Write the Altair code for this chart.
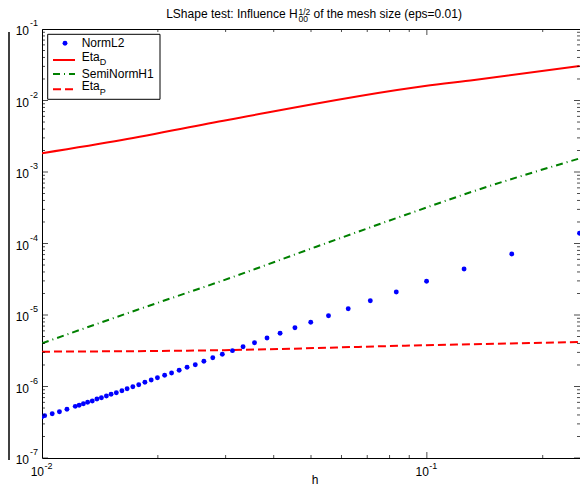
import altair as alt
import pandas as pd

# ---------------- data ----------------
h_norml2 = [0.0100, 0.01016, 0.01063, 0.01110, 0.01161, 0.01220, 0.01249, 0.01281, 0.01314, 0.01351,
            0.01389, 0.01427, 0.01470, 0.01512, 0.01560, 0.01613, 0.01664, 0.01722, 0.01784, 0.01851,
            0.01922, 0.01995, 0.02083, 0.02171, 0.02272, 0.02382, 0.02502, 0.02634, 0.02778, 0.02941,
            0.03125, 0.03330, 0.03566, 0.03843, 0.04156, 0.04542, 0.04992, 0.05552, 0.06247, 0.07130,
            0.08328, 0.09982, 0.12494, 0.1662, 0.2493]
norml2 = [3.78e-7, 3.91e-7, 4.16e-7, 4.44e-7, 4.80e-7, 5.28e-7, 5.46e-7, 5.74e-7, 6.01e-7, 6.27e-7,
          6.69e-7, 6.97e-7, 7.36e-7, 7.78e-7, 8.19e-7, 8.74e-7, 9.32e-7, 9.94e-7, 1.06e-6, 1.145e-6,
          1.233e-6, 1.328e-6, 1.434e-6, 1.544e-6, 1.684e-6, 1.855e-6, 2.018e-6, 2.251e-6, 2.527e-6, 2.82e-6,
          3.17e-6, 3.60e-6, 4.10e-6, 4.77e-6, 5.55e-6, 6.64e-6, 7.91e-6, 9.78e-6, 1.225e-5, 1.585e-5,
          2.098e-5, 2.96e-5, 4.40e-5, 7.13e-5, 1.389e-4]

h_etad = [0.0100, 0.01613, 0.03035, 0.09883, 0.1328, 0.2494]
etad = [1.83e-3, 2.80e-3, 5.34e-3, 1.595e-2, 1.935e-2, 3.04e-2]

h_semi = [0.0100, 0.01763, 0.03106, 0.05162, 0.08783, 0.1328, 0.2490]
semi = [4.02e-6, 1.175e-5, 3.346e-5, 9.02e-5, 2.503e-4, 5.42e-4, 1.545e-3]

h_etap = [0.0100, 0.03125, 0.0878, 0.249]
etap = [3.07e-6, 3.24e-6, 3.72e-6, 4.19e-6]

# axis ticks / labels
x_major = [0.01, 0.1]
x_major_exp = ["-2", "-1"]
x_minor = [0.02, 0.03, 0.04, 0.05, 0.06, 0.07, 0.08, 0.09, 0.2]
y_major = [1e-7, 1e-6, 1e-5, 1e-4, 1e-3, 1e-2, 1e-1]
y_major_exp = ["-7", "-6", "-5", "-4", "-3", "-2", "-1"]
y_minor = [k * 10.0 ** e for e in range(-7, -1) for k in range(2, 10)]

W, H = 538, 429
FONT = "Liberation Sans"

xs = alt.Scale(type="log", domain=[0.01, 0.25], nice=False)
ys = alt.Scale(type="log", domain=[1e-7, 1e-1], nice=False)

def X(f="h"):
    return alt.X(f"{f}:Q", scale=xs, axis=None)

def Y(f="v"):
    return alt.Y(f"{f}:Q", scale=ys, axis=None)

one = alt.Data(values=[{"a": 1}])

df_n = pd.DataFrame({"h": h_norml2, "v": norml2})
df_d = pd.DataFrame({"h": h_etad, "v": etad})
df_s = pd.DataFrame({"h": h_semi, "v": semi})
df_p = pd.DataFrame({"h": h_etap, "v": etap})

layers = []

# edge of the neighbouring (cropped) panel on the far left
layers.append(alt.Chart(one).mark_rule(color="black", strokeWidth=1.5)
              .encode(x=alt.value(-33), y=alt.value(3), y2=alt.value(431)))

# curves
layers.append(alt.Chart(df_d).mark_line(color="#ff0000", strokeWidth=2, interpolate="monotone", clip=True).encode(x=X(), y=Y()))
layers.append(alt.Chart(df_s).mark_line(color="#008000", strokeWidth=2, strokeDash=[7, 4, 1, 4], interpolate="monotone", clip=True).encode(x=X(), y=Y()))
layers.append(alt.Chart(df_p).mark_line(color="#ff0000", strokeWidth=2, strokeDash=[8, 4], interpolate="monotone", clip=True).encode(x=X(), y=Y()))
layers.append(alt.Chart(df_n).mark_point(filled=True, shape="circle", size=24, color="#0000ff", opacity=1, clip=True).encode(x=X(), y=Y()))

# inward ticks (drawn as centred ticks clipped to the plot area)
dy_major = pd.DataFrame({"v": y_major})
dy_minor = pd.DataFrame({"v": y_minor})
dx_major = pd.DataFrame({"h": x_major})
dx_minor = pd.DataFrame({"h": x_minor})
for xv in (0, W):
    layers.append(alt.Chart(dy_major).mark_tick(orient="horizontal", size=12, thickness=1, color="black", clip=True)
                  .encode(x=alt.value(xv), y=Y()))
    layers.append(alt.Chart(dy_minor).mark_tick(orient="horizontal", size=6, thickness=1, color="black", clip=True)
                  .encode(x=alt.value(xv), y=Y()))
for yv in (0, H):
    layers.append(alt.Chart(dx_major).mark_tick(orient="vertical", size=12, thickness=1, color="black", clip=True)
                  .encode(y=alt.value(yv), x=X()))
    layers.append(alt.Chart(dx_minor).mark_tick(orient="vertical", size=6, thickness=1, color="black", clip=True)
                  .encode(y=alt.value(yv), x=X()))

# tick labels 10^k
dfyl = pd.DataFrame({"v": y_major, "exp": y_major_exp})
layers.append(alt.Chart(dfyl).mark_text(text="10", align="right", baseline="middle", dx=-13, dy=2, fontSize=12, font=FONT)
              .encode(x=alt.value(0), y=Y()))
layers.append(alt.Chart(dfyl).mark_text(align="left", baseline="middle", dx=-12, dy=-6, fontSize=9, font=FONT)
              .encode(x=alt.value(0), y=Y(), text="exp:N"))
dfxl = pd.DataFrame({"h": x_major, "exp": x_major_exp})
layers.append(alt.Chart(dfxl).mark_text(text="10", align="right", baseline="middle", dx=2, dy=14, fontSize=12, font=FONT)
              .encode(y=alt.value(H), x=X()))
layers.append(alt.Chart(dfxl).mark_text(align="left", baseline="middle", dx=2.5, dy=8, fontSize=9, font=FONT)
              .encode(y=alt.value(H), x=X(), text="exp:N"))

# axis title
layers.append(alt.Chart(one).mark_text(text="h", align="center", baseline="alphabetic", fontSize=12, font=FONT)
              .encode(x=alt.value(273), y=alt.value(455)))

# chart title with H^{1/2}_{00}
layers.append(alt.Chart(one).mark_text(text="LShape test: Influence H", align="right", baseline="alphabetic", fontSize=12, font=FONT)
              .encode(x=alt.value(255.6), y=alt.value(-11.5)))
layers.append(alt.Chart(one).mark_text(text="1/2", align="left", baseline="alphabetic", fontSize=8.5, font=FONT)
              .encode(x=alt.value(256.5), y=alt.value(-14.5)))
layers.append(alt.Chart(one).mark_text(text="00", align="left", baseline="alphabetic", fontSize=8.5, font=FONT)
              .encode(x=alt.value(256.5), y=alt.value(-7)))
layers.append(alt.Chart(one).mark_text(text="of the mesh size (eps=0.01)", align="left", baseline="alphabetic", fontSize=12, font=FONT)
              .encode(x=alt.value(271.5), y=alt.value(-11.5)))

# legend box
layers.append(alt.Chart(one).mark_rect(fill="white", stroke="black", strokeWidth=1)
              .encode(x=alt.value(5.7), x2=alt.value(118), y=alt.value(5.3), y2=alt.value(70.3)))
layers.append(alt.Chart(one).mark_point(filled=True, shape="circle", size=24, color="#0000ff", opacity=1)
              .encode(x=alt.value(23), y=alt.value(14.3)))
layers.append(alt.Chart(one).mark_rule(color="#ff0000", strokeWidth=2)
              .encode(x=alt.value(11), x2=alt.value(33), y=alt.value(31)))
layers.append(alt.Chart(one).mark_rule(color="#008000", strokeWidth=2, strokeDash=[7, 4, 1, 4])
              .encode(x=alt.value(11), x2=alt.value(33), y=alt.value(45)))
layers.append(alt.Chart(one).mark_rule(color="#ff0000", strokeWidth=2, strokeDash=[8, 4])
              .encode(x=alt.value(11), x2=alt.value(33), y=alt.value(60.3)))
legend_items = [("NormL2", 14.3), ("Eta", 27.7), ("SemiNormH1", 45), ("Eta", 56.7)]
for txt, yy in legend_items:
    layers.append(alt.Chart(one).mark_text(text=txt, align="left", baseline="middle", fontSize=12, font=FONT)
                  .encode(x=alt.value(39.7), y=alt.value(yy)))
for txt, yy in [("D", 32.7), ("P", 62.7)]:
    layers.append(alt.Chart(one).mark_text(text=txt, align="left", baseline="middle", fontSize=9, font=FONT)
                  .encode(x=alt.value(57.7), y=alt.value(yy)))

chart = alt.layer(*layers).properties(
    width=W, height=H,
    padding={"left": 34, "top": 21, "right": 0, "bottom": 28},
    autosize=alt.AutoSizeParams(type="none"),
    background="white",
).configure_view(stroke="black", strokeWidth=1)

chart.save("out.html", embed_options={"renderer": "svg", "actions": False})
